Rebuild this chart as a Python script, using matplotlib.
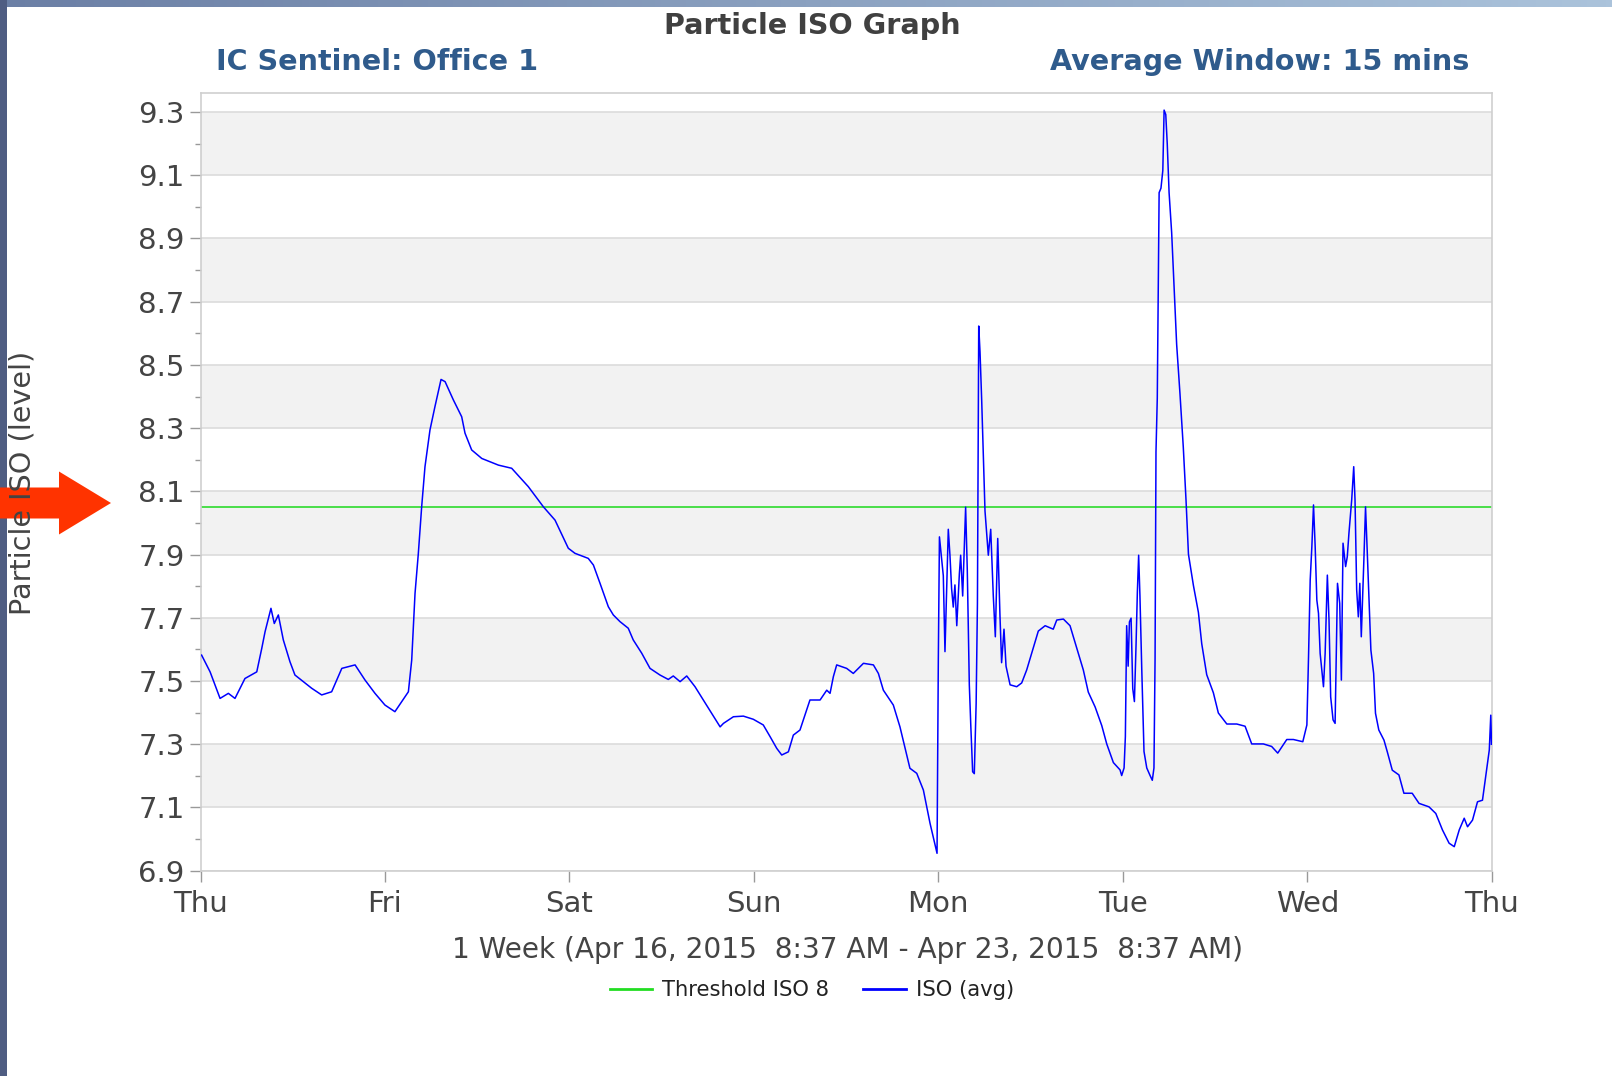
import numpy as np
import matplotlib
matplotlib.use("Agg")
import matplotlib.pyplot as plt
from matplotlib.lines import Line2D
from matplotlib.patches import FancyArrow

# ---------------- data ----------------
day_labels = ["Thu", "Fri", "Sat", "Sun", "Mon", "Tue", "Wed", "Thu"]
threshold_value = 8.05
title_text = "Particle ISO Graph"
subtitle_left = "IC Sentinel: Office 1"
subtitle_right = "Average Window: 15 mins"
xlabel_text = "1 Week (Apr 16, 2015  8:37 AM - Apr 23, 2015  8:37 AM)"
ylabel_text = "Particle ISO (level)"

iso_days = [
    0.006, 0.052, 0.106, 0.151, 0.187, 0.241, 0.305, 0.332, 0.350, 0.382, 0.400, 0.422,
    0.449, 0.485, 0.512, 0.603, 0.657, 0.711, 0.766, 0.838, 0.892, 0.946, 1.000, 1.054,
    1.109, 1.127, 1.145, 1.163, 1.181, 1.199, 1.217, 1.244, 1.271, 1.304, 1.326, 1.371,
    1.416, 1.434, 1.470, 1.525, 1.615, 1.687, 1.777, 1.859, 1.922, 1.994, 2.030, 2.102,
    2.130, 2.166, 2.211, 2.238, 2.274, 2.319, 2.346, 2.392, 2.437, 2.491, 2.536, 2.563,
    2.600, 2.636, 2.681, 2.726, 2.771, 2.817, 2.835, 2.889, 2.943, 2.997, 3.051, 3.088,
    3.124, 3.151, 3.187, 3.214, 3.250, 3.268, 3.304, 3.359, 3.395, 3.413, 3.431, 3.449,
    3.503, 3.539, 3.594, 3.648, 3.675, 3.702, 3.756, 3.792, 3.846, 3.883, 3.919, 3.955,
    3.993, 4.000, 4.006, 4.018, 4.027, 4.036, 4.054, 4.063, 4.072, 4.081, 4.090, 4.100,
    4.114, 4.121, 4.132, 4.148, 4.157, 4.168, 4.176, 4.186, 4.195, 4.205, 4.212, 4.219,
    4.226, 4.235, 4.244, 4.253, 4.271, 4.284, 4.298, 4.309, 4.322, 4.334, 4.343, 4.356,
    4.367, 4.389, 4.425, 4.452, 4.479, 4.515, 4.542, 4.579, 4.623, 4.642, 4.678, 4.714,
    4.750, 4.786, 4.813, 4.850, 4.886, 4.913, 4.949, 4.985, 4.994, 5.007, 5.014, 5.021,
    5.029, 5.036, 5.045, 5.054, 5.063, 5.072, 5.079, 5.086, 5.093, 5.103, 5.115, 5.130,
    5.148, 5.160, 5.169, 5.175, 5.180, 5.187, 5.193, 5.197, 5.207, 5.217, 5.224, 5.233,
    5.241, 5.251, 5.265, 5.278, 5.292, 5.310, 5.328, 5.343, 5.356, 5.383, 5.410, 5.428,
    5.455, 5.491, 5.518, 5.564, 5.618, 5.663, 5.699, 5.762, 5.807, 5.840, 5.889, 5.925,
    5.976, 5.998, 6.007, 6.016, 6.025, 6.034, 6.043, 6.052, 6.061, 6.070, 6.088, 6.097,
    6.109, 6.118, 6.127, 6.140, 6.151, 6.164, 6.176, 6.185, 6.194, 6.208, 6.217, 6.226,
    6.241, 6.252, 6.259, 6.268, 6.277, 6.285, 6.293, 6.307, 6.316, 6.325, 6.345, 6.360,
    6.370, 6.388, 6.416, 6.434, 6.461, 6.497, 6.524, 6.569, 6.606, 6.660, 6.697, 6.733,
    6.769, 6.797, 6.824, 6.851, 6.869, 6.896, 6.923, 6.950, 6.972, 6.987, 6.995, 6.999,
]
iso_values = [
    7.582, 7.529, 7.445, 7.461, 7.445, 7.508, 7.529, 7.603, 7.656, 7.730, 7.682, 7.709,
    7.630, 7.561, 7.519, 7.477, 7.456, 7.466, 7.540, 7.551, 7.503, 7.461, 7.424, 7.403,
    7.450, 7.466, 7.566, 7.777, 7.904, 8.051, 8.178, 8.294, 8.368, 8.454, 8.447, 8.389,
    8.336, 8.284, 8.231, 8.204, 8.183, 8.173, 8.115, 8.051, 8.009, 7.920, 7.904, 7.888,
    7.867, 7.809, 7.735, 7.709, 7.688, 7.667, 7.630, 7.588, 7.540, 7.519, 7.505, 7.516,
    7.498, 7.516, 7.482, 7.440, 7.398, 7.355, 7.366, 7.387, 7.389, 7.379, 7.361, 7.324,
    7.287, 7.266, 7.276, 7.329, 7.345, 7.377, 7.440, 7.440, 7.471, 7.461, 7.514, 7.551,
    7.540, 7.524, 7.556, 7.551, 7.524, 7.471, 7.424, 7.355, 7.224, 7.208, 7.155, 7.050,
    6.955, 7.570, 7.956, 7.886, 7.833, 7.593, 7.980, 7.898, 7.792, 7.734, 7.804, 7.675,
    7.839, 7.898, 7.769, 8.050, 7.851, 7.488, 7.359, 7.213, 7.207, 7.429, 7.745, 8.623,
    8.541, 8.389, 8.214, 8.038, 7.898, 7.980, 7.769, 7.640, 7.951, 7.710, 7.558, 7.664,
    7.547, 7.488, 7.482, 7.494, 7.535, 7.605, 7.658, 7.675, 7.664, 7.693, 7.696, 7.675,
    7.605, 7.535, 7.465, 7.418, 7.359, 7.301, 7.242, 7.219, 7.201, 7.225, 7.324, 7.675,
    7.547, 7.687, 7.699, 7.476, 7.435, 7.617, 7.781, 7.898, 7.769, 7.535, 7.277, 7.225,
    7.201, 7.186, 7.225, 7.570, 8.225, 8.395, 8.805, 9.045, 9.059, 9.115, 9.306, 9.292,
    9.200, 9.045, 8.918, 8.748, 8.565, 8.409, 8.240, 8.070, 7.901, 7.802, 7.717, 7.618,
    7.520, 7.463, 7.399, 7.364, 7.364, 7.357, 7.301, 7.301, 7.293, 7.272, 7.315, 7.315,
    7.308, 7.361, 7.577, 7.819, 7.925, 8.057, 7.925, 7.756, 7.714, 7.587, 7.482, 7.587,
    7.835, 7.693, 7.450, 7.377, 7.366, 7.809, 7.746, 7.503, 7.936, 7.862, 7.893, 7.967,
    8.073, 8.178, 8.073, 7.788, 7.703, 7.809, 7.640, 7.883, 8.051, 7.914, 7.598, 7.524,
    7.398, 7.345, 7.313, 7.276, 7.218, 7.203, 7.145, 7.145, 7.113, 7.102, 7.081, 7.029,
    6.987, 6.976, 7.029, 7.066, 7.039, 7.060, 7.118, 7.123, 7.218, 7.282, 7.392, 7.300,
]

y_major = [6.9, 7.1, 7.3, 7.5, 7.7, 7.9, 8.1, 8.3, 8.5, 8.7, 8.9, 9.1, 9.3]

# ---------------- figure ----------------
W, H = 1612, 1076
fig = plt.figure(figsize=(W / 100, H / 100), dpi=100)
fig.patch.set_facecolor("white")

def fx(px):
    return px / W

def fy(py):
    return 1 - py / H

# slide edges (background decoration)
top = fig.add_axes([0, fy(7), 1, 7 / H])
grad = np.linspace(0, 1, 256).reshape(1, -1)
c0 = np.array([0x6b, 0x7f, 0xa5]) / 255
c1 = np.array([0xab, 0xc3, 0xdb]) / 255
img = c0[None, None, :] * (1 - grad[..., None]) + c1[None, None, :] * grad[..., None]
top.imshow(img, aspect="auto", extent=[0, 1, 0, 1])
top.axis("off")
left = fig.add_axes([0, 0, 7 / W, 1])
left.set_facecolor("#4f5d82")
left.set_xticks([]); left.set_yticks([])
for s in left.spines.values():
    s.set_visible(False)

# main axes
x0, x1 = 200.5, 1491.7
ytop, ybot = 93.3, 870.7
ax = fig.add_axes([fx(x0), fy(ybot), fx(x1 - x0), (ybot - ytop) / H])
ymin = 6.9
ymax = 9.3 + (112 - ytop) / 316.1
ax.set_xlim(0, 7)
ax.set_ylim(ymin, ymax)

# alternating bands + grid
for lo in [7.1, 7.5, 7.9, 8.3, 8.7, 9.1]:
    ax.axhspan(lo, lo + 0.2, color="#f2f2f2", zorder=0, lw=0)
for v in y_major:
    ax.axhline(v, color="#dcdcdc", lw=1.2, zorder=0.5)

ax.axhline(threshold_value, color="#3cdc3c", lw=1.3, zorder=2)
ax.plot(iso_days, iso_values, color="#0000ff", lw=1.1, zorder=3)

ax.set_xticks(range(len(day_labels)))
ax.set_xticklabels(day_labels)
ax.set_yticks(y_major)
ax.set_yticklabels([f"{v:.1f}" for v in y_major])
ax.set_yticks([round(v + 0.1, 1) for v in y_major[:-1]], minor=True)
ax.tick_params(axis="both", which="major", labelsize=21, labelcolor="#444444",
               color="#999999", length=8, width=1)
ax.tick_params(axis="y", which="minor", length=4, color="#999999", width=1)
ax.tick_params(axis="x", pad=6)
for s in ax.spines.values():
    s.set_color("#cfcfcf")
    s.set_linewidth(1.2)

# texts
fig.text(fx(812), fy(26), title_text, ha="center", va="center", fontsize=20.6,
         fontweight="bold", color="#404040")
fig.text(fx(216), fy(62), subtitle_left, ha="left", va="center", fontsize=20.6,
         fontweight="bold", color="#2f5b8c")
fig.text(fx(1469), fy(62), subtitle_right, ha="right", va="center", fontsize=20.6,
         fontweight="bold", color="#2f5b8c")
fig.text(fx(848), fy(950), xlabel_text, ha="center", va="center", fontsize=20.2,
         color="#444444")
fig.text(fx(23), fy(483), ylabel_text, ha="center", va="center", fontsize=20.6,
         color="#444444", rotation=90)

# legend
handles = [Line2D([0], [0], color="#22dd22", lw=2),
           Line2D([0], [0], color="#0000ff", lw=2)]
leg = fig.legend(handles, ["Threshold ISO 8", "ISO (avg)"], loc="center",
                 bbox_to_anchor=(fx(812), fy(990)), ncol=2, frameon=False,
                 fontsize=15.2, handlelength=2.0, columnspacing=1.6, handletextpad=0.5)
for t in leg.get_texts():
    t.set_color("#222222")

# red annotation arrow
arr_ax = fig.add_axes([0, 0, 1, 1], facecolor="none")
arr_ax.set_xlim(0, W); arr_ax.set_ylim(H, 0)
arr_ax.axis("off")
arr_ax.add_patch(FancyArrow(0, 503, 111, 0, width=31, head_width=63,
                            head_length=52, length_includes_head=True,
                            color="#ff3300", lw=0, zorder=10))

fig.savefig("out.png", dpi=100)
